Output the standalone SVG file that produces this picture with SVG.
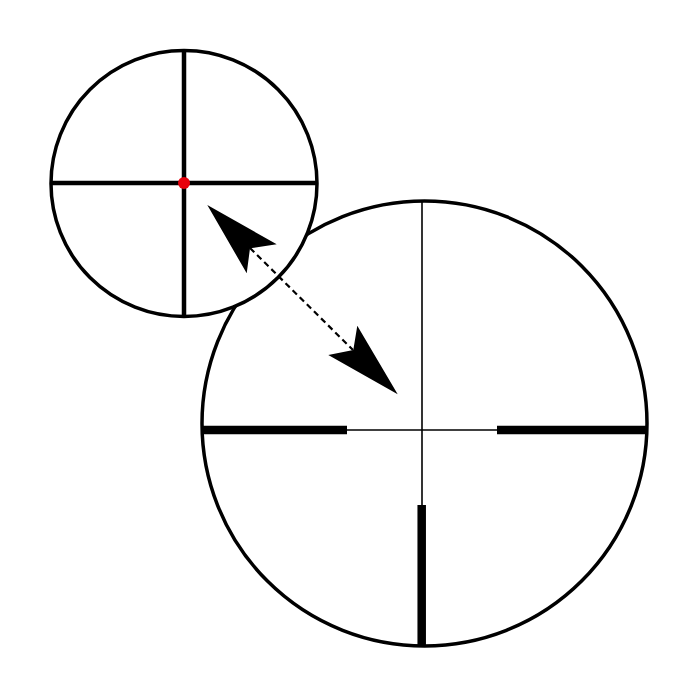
<svg xmlns="http://www.w3.org/2000/svg" width="700" height="700" viewBox="0 0 700 700">
<style>
.ring{fill:#fff;stroke:#000;stroke-width:3.5}
.thin{stroke:#000;stroke-width:1.6}
.thick{stroke:#000;stroke-width:8.5}
.cross{stroke:#000;stroke-width:4.5}
.head{fill:#000}
</style>
<rect width="700" height="700" fill="#fff"/>
<g id="large-reticle">
<circle class="ring" cx="424.5" cy="423.5" r="222.5"/>
<line class="thin" x1="422" y1="202" x2="422" y2="505"/>
<line class="thin" x1="346" y1="430" x2="498" y2="430"/>
<line class="thick" x1="202" y1="430" x2="347" y2="430"/>
<line class="thick" x1="497" y1="430" x2="647" y2="430"/>
<line class="thick" x1="421.7" y1="505" x2="421.7" y2="645"/>
</g>
<g id="small-reticle">
<circle class="ring" cx="184" cy="183.5" r="133"/>
<line class="cross" x1="51" y1="183" x2="317" y2="183"/>
<line class="cross" x1="184" y1="50.5" x2="184" y2="316.5"/>
<circle cx="184" cy="183" r="6" fill="#e8000b"/>
</g>
<g id="connectors">
<line x1="250" y1="248" x2="353" y2="350" stroke="#000" stroke-width="2.2" stroke-dasharray="6,4"/>
<polygon class="head" points="207.3,205 276.7,244.3 250,248.3 246.7,273.3"/>
<polygon class="head" points="397.7,394.3 357.3,325.7 353.3,350 328.3,355"/>
</g>
</svg>
